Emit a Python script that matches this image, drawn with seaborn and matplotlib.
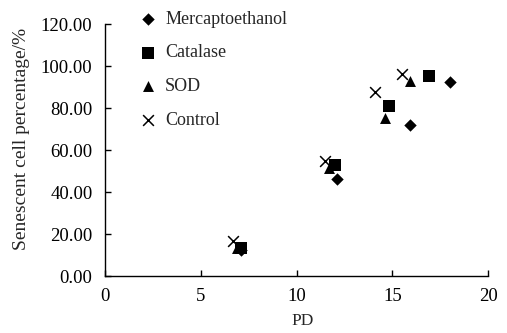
import matplotlib
matplotlib.use("Agg")
import matplotlib.pyplot as plt
import seaborn as sns
import pandas as pd
from matplotlib.ticker import FormatStrFormatter

sns.set_style("white")
plt.rcParams['font.family'] = ['Liberation Serif', 'DejaVu Serif']

groups = ["Mercaptoethanol", "Catalase", "SOD", "Control"]
merc_pd = [7.1, 12.1, 15.9, 18.0]
merc_val = [12.5, 46.5, 72.0, 92.5]
cat_pd = [7.1, 12.0, 14.8, 16.9]
cat_val = [13.5, 53.0, 81.0, 95.5]
sod_pd = [6.9, 11.7, 14.6, 15.9]
sod_val = [13.5, 51.5, 75.5, 93.0]
ctl_pd = [6.7, 11.5, 14.1, 15.5]
ctl_val = [16.5, 55.0, 87.5, 96.5]

rows = []
for g, xs, ys in zip(groups, [merc_pd, cat_pd, sod_pd, ctl_pd],
                     [merc_val, cat_val, sod_val, ctl_val]):
    for x, y in zip(xs, ys):
        rows.append({"PD": x, "val": y, "group": g})
df = pd.DataFrame(rows)

fig = plt.figure(figsize=(5.07, 3.33), dpi=100)
ax = fig.add_axes([0.207, 0.171, 0.756, 0.756])

markers = {"Mercaptoethanol": "D", "Catalase": "s", "SOD": "^", "Control": "x"}
sizes = {"Mercaptoethanol": 40, "Catalase": 64, "SOD": 62, "Control": 60}
for g in groups:
    sub = df[df.group == g]
    sns.scatterplot(data=sub, x="PD", y="val", marker=markers[g], color="black",
                    s=sizes[g], linewidth=1.1 if g == "Control" else 0,
                    edgecolor="black", ax=ax, label=g, zorder=3)

ax.set_xlim(0, 20)
ax.set_ylim(0, 120)
ax.set_xticks([0, 5, 10, 15, 20])
ax.set_yticks([0, 20, 40, 60, 80, 100, 120])
ax.yaxis.set_major_formatter(FormatStrFormatter("%.2f"))
for s in ["top", "right"]:
    ax.spines[s].set_visible(False)
for s in ["left", "bottom"]:
    ax.spines[s].set_color("black")
    ax.spines[s].set_linewidth(1.0)
ax.tick_params(direction="in", length=4, width=1, colors="black", labelsize=13.5,
               left=True, bottom=True)
ax.tick_params(axis="x", pad=8.5)
ax.tick_params(axis="y", pad=9)
ax.set_xlabel("PD", fontsize=12.5)
ax.set_ylabel("Senescent cell percentage/%", fontsize=14)
ax.xaxis.set_label_coords(0.516, -0.147)
ax.yaxis.set_label_coords(-0.196, 0.544)

leg = ax.legend(loc="upper left", bbox_to_anchor=(0.26, 0.99), bbox_transform=fig.transFigure,
                frameon=False, fontsize=13, labelspacing=0.93, handletextpad=0.45,
                borderaxespad=0, handlelength=1.0)

fig.savefig("out.png", dpi=100)
